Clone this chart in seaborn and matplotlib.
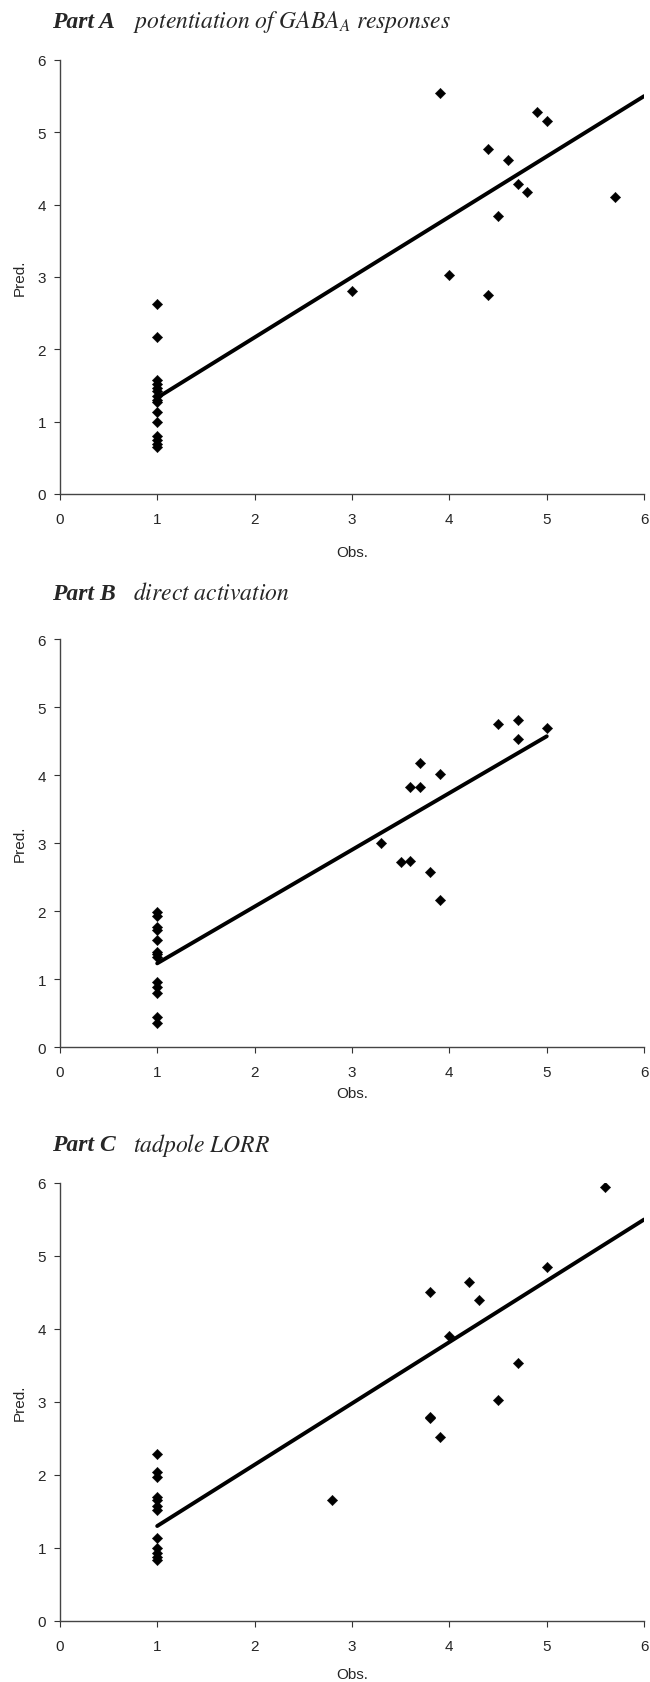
import numpy as np
import pandas as pd
import seaborn as sns
import matplotlib.pyplot as plt

# Part A - potentiation of GABA_A responses
obs_a = [1] * 15 + [3.9, 4.9, 5.0, 4.4, 4.6, 4.7, 4.8, 5.7, 4.5, 4.0, 3.0, 4.4]
pred_a = [2.63, 2.17, 1.58, 1.52, 1.47, 1.42, 1.36, 1.30, 1.27, 1.14, 0.99, 0.80, 0.75, 0.69, 0.65,
          5.54, 5.28, 5.15, 4.77, 4.62, 4.28, 4.18, 4.11, 3.84, 3.03, 2.80, 2.75]
trend_x_a = [1, 6]
trend_y_a = [1.33, 5.50]

# Part B - direct activation
obs_b = [1] * 13 + [4.5, 4.7, 4.7, 5.0, 3.7, 3.9, 3.6, 3.7, 3.3, 3.5, 3.6, 3.8, 3.9]
pred_b = [1.98, 1.92, 1.77, 1.72, 1.58, 1.40, 1.37, 1.33, 0.95, 0.88, 0.80, 0.44, 0.36,
          4.75, 4.81, 4.53, 4.69, 4.17, 4.01, 3.82, 3.82, 3.00, 2.72, 2.74, 2.58, 2.16]
trend_x_b = [1, 5]
trend_y_b = [1.23, 4.57]

# Part C - tadpole LORR
obs_c = [1] * 12 + [5.6, 5.0, 4.2, 4.3, 3.8, 4.0, 4.7, 4.5, 3.8, 3.8, 3.9, 2.8]
pred_c = [2.29, 2.04, 1.97, 1.70, 1.65, 1.58, 1.52, 1.13, 1.00, 0.93, 0.88, 0.84,
          5.94, 4.85, 4.65, 4.40, 4.51, 3.90, 3.53, 3.02, 2.78, 2.80, 2.52, 1.65]
trend_x_c = [1, 6]
trend_y_c = [1.30, 5.50]

titles = ["Part A", "Part B", "Part C"]
subtitles = [r"$\it{potentiation\ of\ GABA_A\ responses}$",
             r"$\it{direct\ activation}$",
             r"$\it{tadpole\ LORR}$"]

sns.set_style("ticks")
plt.rcParams['font.family'] = ['Liberation Sans', 'DejaVu Sans']
plt.rcParams['mathtext.fontset'] = 'stix'

fig = plt.figure(figsize=(6.5, 16.83), dpi=100)

# axes boxes in figure fractions: left, bottom, width, height
boxes = [[0.092, 0.7059, 0.899, 0.2579],
         [0.092, 0.3773, 0.899, 0.2424],
         [0.092, 0.0363, 0.899, 0.2602]]
title_y = [1 - 22 / 1683, 1 - 594 / 1683, 1 - 1146 / 1683]
label_pad = [14, 5, 10]

panels = [(obs_a, pred_a, trend_x_a, trend_y_a),
          (obs_b, pred_b, trend_x_b, trend_y_b),
          (obs_c, pred_c, trend_x_c, trend_y_c)]

for i, (obs, pred, tx, ty) in enumerate(panels):
    ax = fig.add_axes(boxes[i])
    df = pd.DataFrame({'Obs.': obs, 'Pred.': pred})
    tr = pd.DataFrame({'Obs.': tx, 'Pred.': ty})
    sns.lineplot(x='Obs.', y='Pred.', data=tr, ax=ax, color='black', linewidth=2.8, zorder=2)
    sns.scatterplot(x='Obs.', y='Pred.', data=df, ax=ax, marker='D', s=28, color='black',
                    edgecolor='black', linewidth=0.3, zorder=3)
    ax.set_xlim(0, 6)
    ax.set_ylim(0, 6)
    ax.set_xticks(range(7))
    ax.set_yticks(range(7))
    ax.tick_params(axis='both', labelsize=11, length=4, width=0.8, color='#333333')
    ax.tick_params(axis='x', pad=9)
    ax.tick_params(axis='y', pad=6)
    for side in ['top', 'right']:
        ax.spines[side].set_visible(False)
    for side in ['left', 'bottom']:
        ax.spines[side].set_color('#444444')
        ax.spines[side].set_linewidth(1.0)
    ax.set_xlabel('Obs.', fontsize=11, labelpad=label_pad[i])
    ax.set_ylabel('Pred.', fontsize=11, labelpad=8)
    for lab in ax.get_xticklabels():
        lab.set_clip_on(False)

    fig.text(52 / 650, title_y[i], titles[i], fontsize=17, fontweight='bold', fontstyle='italic',
             family='Liberation Serif', va='center', ha='left')
    fig.text(133 / 650, title_y[i], subtitles[i], fontsize=17, va='center', ha='left')

fig.savefig('out.png', dpi=100)
